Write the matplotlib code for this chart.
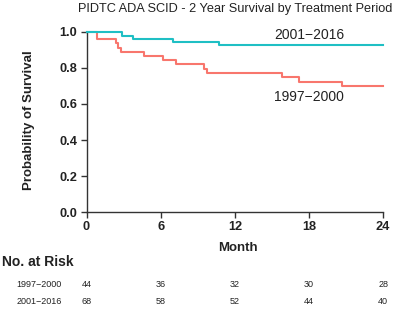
import matplotlib
matplotlib.use("Agg")
import matplotlib.pyplot as plt

plt.rcParams['font.family'] = ['Liberation Sans', 'DejaVu Sans']

# Kaplan-Meier steps
groups = ["1997\u22122000", "2001\u22122016"]
times_early = [0, 0.83, 2.39, 2.58, 2.77, 4.68, 6.17, 7.25, 9.51, 9.73, 15.79, 17.22, 20.71, 24]
surv_early = [1.0, 0.958, 0.936, 0.911, 0.886, 0.867, 0.842, 0.819, 0.793, 0.771, 0.747, 0.721, 0.698, 0.698]
times_late = [0, 2.87, 3.76, 7.0, 10.73, 24]
surv_late = [1.0, 0.975, 0.958, 0.941, 0.924, 0.924]

month_ticks = [0, 6, 12, 18, 24]
risk_early = [44, 36, 32, 30, 28]
risk_late = [68, 58, 52, 44, 40]

red = '#F8766D'
teal = '#1FBFC4'
ink = '#222222'

fig = plt.figure(figsize=(3.95, 3.16), dpi=100)
ax = fig.add_axes([0.219, 0.328, 0.751, 0.572])

ax.step(times_early, surv_early, where='post', color=red, lw=1.5, clip_on=False, zorder=3)
ax.step(times_late, surv_late, where='post', color=teal, lw=1.5, clip_on=False, zorder=3)

ax.set_xlim(0, 24)
ax.set_ylim(0, 1)
ax.set_xticks(month_ticks)
ax.set_yticks([0, 0.2, 0.4, 0.6, 0.8, 1.0])
ax.set_yticklabels(['0.0', '0.2', '0.4', '0.6', '0.8', '1.0'])
for s in ['top', 'right']:
    ax.spines[s].set_visible(False)
for s in ['left', 'bottom']:
    ax.spines[s].set_color('#333333')
    ax.spines[s].set_linewidth(1.0)
ax.tick_params(direction='out', length=4, width=1, color='#333333', pad=2.5)
for lab in ax.get_xticklabels() + ax.get_yticklabels():
    lab.set_fontweight('bold')
    lab.set_fontsize(9.2)
    lab.set_color(ink)

# axis titles
fig.text(0.073, 0.619, 'Probability of Survival', rotation=90, ha='center', va='center',
         fontsize=9.5, fontweight='bold', color=ink)
fig.text(0.603, 0.216, 'Month', ha='center', va='center', fontsize=9.5, fontweight='bold', color=ink)

ax.text(18, 0.98, groups[1], ha='center', va='center', fontsize=10, color=ink)
ax.text(18, 0.64, groups[0], ha='center', va='center', fontsize=10, color=ink)

fig.text(0.595, 0.972, 'PIDTC ADA SCID - 2 Year Survival by Treatment Period',
         ha='center', va='center', fontsize=9.2, color=ink)

# risk table
fig.text(0.005, 0.171, 'No. at Risk', ha='left', va='center', fontsize=10, fontweight='bold', color=ink)
tr = ax.get_xaxis_transform()
for rowy, name, counts in [(-0.397, groups[0], risk_early), (-0.491, groups[1], risk_late)]:
    ax.text(-0.083, rowy, name, transform=ax.transAxes, ha='right', va='center', fontsize=6.5, color=ink)
    for m, c in zip(month_ticks, counts):
        ax.text(m, rowy, str(c), transform=tr, ha='center', va='center', fontsize=6.5, color=ink)

fig.savefig('out.png', dpi=100)
